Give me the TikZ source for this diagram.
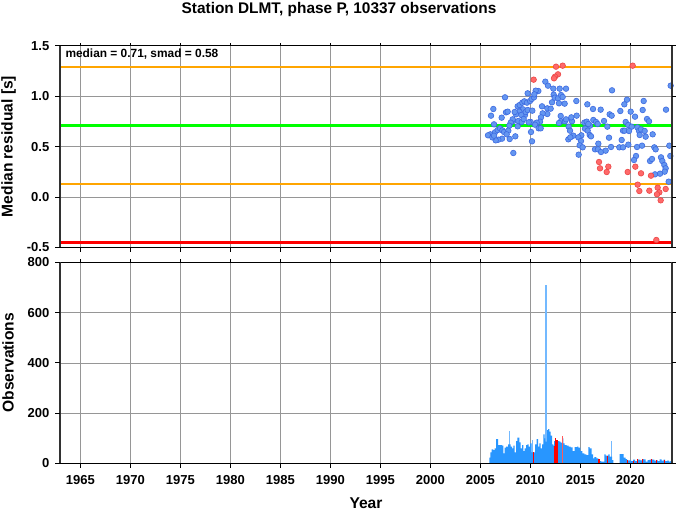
\documentclass[tikz,border=0pt]{standalone}
\usepackage{fontspec}
\setmainfont{Liberation Sans}
\definecolor{ptblue}{RGB}{100,150,240}
\definecolor{ptblueln}{RGB}{60,105,225}
\definecolor{ptred}{RGB}{255,105,105}
\definecolor{ptredln}{RGB}{235,70,70}
\definecolor{barblue}{RGB}{40,150,255}
\definecolor{barlight}{RGB}{115,185,255}
\definecolor{barred}{RGB}{255,0,0}
\definecolor{barredlt}{RGB}{255,90,90}
\definecolor{gridgray}{RGB}{150,150,150}
\definecolor{framegray}{RGB}{50,50,50}
\definecolor{lnorange}{RGB}{255,165,0}
\definecolor{lngreen}{RGB}{0,255,0}
\definecolor{lnred}{RGB}{255,0,0}
\begin{document}
\begin{tikzpicture}[x=1pt,y=-1pt,
  gridline/.style={draw=gridgray, line width=0.6pt},
  frametb/.style={draw=black, line width=1pt},
  framelr/.style={draw=framegray, line width=2pt},
  tickmark/.style={draw=black, line width=0.8pt},
  bpt/.style={fill=ptblue, draw=ptblueln, line width=0.6pt},
  rpt/.style={fill=ptred, draw=ptredln, line width=0.6pt},
  ticklab/.style={inner sep=0pt, font=\fontsize{13}{15}\selectfont\bfseries},
  axlab/.style={inner sep=0pt, font=\fontsize{15.6}{18}\selectfont\bfseries}]
\useasboundingbox (0,0) rectangle (678,511);
\fill[white] (0,0) rectangle (678,511);

% ---------- grid ----------
\foreach \yr in {1965,1970,...,2020}{
  \draw[gridline] ({80.3+(\yr-1965)*10},45.7) -- ({80.3+(\yr-1965)*10},247.3);
  \draw[gridline] ({80.3+(\yr-1965)*10},262.3) -- ({80.3+(\yr-1965)*10},463.3);
}
\foreach \v in {96.1,146.5,196.9,312.55,362.8,413.05}
  \draw[gridline] (59.5,\v) -- (672.3,\v);

% ---------- reference lines ----------
\draw[lnorange, line width=2pt] (59.5,66.9) -- (672.3,66.9);
\draw[lnorange, line width=2pt] (59.5,183.8) -- (672.3,183.8);
\draw[lngreen, line width=3.2pt] (59.5,125.3) -- (672.3,125.3);
\draw[lnred, line width=2.4pt] (59.5,242.3) -- (672.3,242.3);

% ---------- scatter points ----------
\foreach \x/\y in {196/65,204/77,175/93,167/92,143/100,220/86,239/86,258/86,75/112,40/147,33/167,78/157,83/155,65/173,100/183,113/139,119/135,127/128,133/124,141/128,150/123,155/117,162/112,163/103,186/139,202/145,212/146,216/127,221/104,224/113,234/115,243/105,248/111,254/131,237/130,202/162,188/160,183/172,180/185,170/188,165/194,176/205,182/205,152/186,146/187,153/216,156/244,135/165,129/148,118/155,124/165,108/163,104/156,98/178,92/188,88/197,113/199,115/183,125/186,131/177,137/156,143/150,157/152,42/193,31/223,24/226,45/217,53/210,60/205,67/211,72/216,85/212,80/223,66/236,55/239,47/241,37/232,42/227,89/237,106/229,100/279,242/168,243/184,237/189,255/184,258/178,276/184,274/172,266/200,270/212,280/227,265/238,271/232}
  \filldraw[bpt] ({480+\x/3},{60+\y/3}) circle (2.8);
\foreach \x/\y in {111/91,287/77,156/119,148/133,206/123,4/123,37/133,54/147,77/149,136/153,167/155,180/170,203/150,273/149,5/167,104/163,110/167,28/188,35/185,55/180,63/186,68/192,87/183,97/200,45/197,40/192,30/206,38/212,44/225,48/229,19/226,10/232,18/243,14/256,23/262,152/186,160/195,170/200,187/202,192/213,198/208,209/213,216/177,222/184,144/212,149/212,162/213,233/223,212/230,194/225,140/240,102/233,70/251,60/268,69/268,78/276,92/272,108/261,133/262,144/262,160/254,186/261,201/257,238/262,242/268,283/257,11/284}
  \filldraw[bpt] ({575+\x/3},{60+\y/3}) circle (2.8);
\foreach \x/\y in {228/18,222/30,270/33,276/27,303/22,307/33,313/45,317/55,314/65,300/71,285/73,326/95,331/18}
  \filldraw[bpt] ({560+\x/3},{150+\y/3}) circle (2.8);
\foreach \x/\y in {228/20,248/17,234/43,225/50,222/55,161/59}
  \filldraw[rpt] ({480+\x/3},{60+\y/3}) circle (2.8);
\filldraw[rpt] ({575+173/3},{60+17/3}) circle (2.8);
\foreach \x/\y in {117/36,145/50,120/55,140/66,203/66,226/50,243/70,273/77,233/104,238/123,268/122,293/113,298/127,291/133,317/117,302/151,289/270}
  \filldraw[rpt] ({560+\x/3},{150+\y/3}) circle (2.8);

% ---------- histogram ----------
\begin{scope}[shift={(480,415)},scale=1/3]
  \fill[barlight] (88,145) rectangle (91,48);
  \fill[barlight] (155,145) rectangle (158,75);
  \fill[barlight] (196,145) rectangle (201,-390);
  \fill[barblue] (28,145) |- (31,128) |- (35,112) |- (40,103) |- (44,105) |- (48,100) |- (54,72) |- (58,90) |- (66,90) |- (70,92) |- (74,115) |- (78,98) |- (84,95) |- (88,88) |- (92,88) |- (96,95) |- (100,100) |- (104,92) |- (108,112) |- (112,78) |- (118,68) |- (122,82) |- (126,100) |- (130,90) |- (134,108) |- (138,100) |- (142,90) |- (146,88) |- (150,95) |- (154,85) |- (155,85) |- (158,112) |- (161,112) |- (165,112) |- (170,88) |- (174,72) |- (178,95) |- (182,85) |- (186,100) |- (190,88) |- (194,58) |- (196,70) |- (201,80) |- (204,45) |- (208,42) |- (212,50) |- (216,62) |- (220,88) |- (222,92) |- (234,78) |- (238,78) |- (242,80) |- (246,83) |- (250,70) |- (254,85) |- (260,90) |- (266,92) |- (272,95) |- (278,97) |- (284,108) |- (291,96) -- (291,145) -- cycle;
  \fill[barred] (158,145) rectangle (161,112);
  \fill[barred] (221,145) rectangle (225,92);
  \fill[barred] (225,145) rectangle (229,70);
  \fill[barred] (229,145) rectangle (233,76);
  \fill[barredlt] (246,145) rectangle (250,63);
\end{scope}
\begin{scope}[shift={(577,415)},scale=1/3]
  \fill[barlight] (102,145) rectangle (105,78);
  \fill[barblue] (0,145) |- (4,95) |- (10,98) |- (16,108) |- (22,115) |- (28,118) |- (34,120) |- (38,96) |- (44,100) |- (48,118) |- (52,130) |- (58,126) |- (64,130) |- (68,133) |- (72,138) |- (78,140) |- (82,140) |- (86,118) |- (90,122) |- (94,122) |- (98,118) |- (102,125) |- (105,125) |- (109,135) -- (109,145) -- (128,145) |- (134,117) |- (140,117) |- (146,128) |- (150,132) |- (156,136) |- (162,136) |- (168,138) |- (174,134) |- (180,138) |- (184,133) |- (190,134) |- (196,136) |- (200,132) |- (206,133) |- (212,140) |- (218,135) |- (222,134) |- (226,133) |- (232,134) |- (238,137) |- (242,135) |- (248,138) |- (254,133) |- (260,137) |- (264,134) |- (270,138) |- (276,137) |- (280,140) |- (286,138) -- (286,145) -- cycle;
  \fill[barred] (64,145) rectangle (68,133);
  \fill[barred] (90,145) rectangle (94,122);
  \fill[barred] (150,145) rectangle (153,136);
  \fill[barred] (168,145) rectangle (171,138);
  \fill[barred] (180,145) rectangle (184,133);
  \fill[barred] (196,145) rectangle (199,132);
  \fill[barred] (222,145) rectangle (226,133);
  \fill[barred] (238,145) rectangle (241,135);
  \fill[barred] (262,145) rectangle (264,134);
\end{scope}

% ---------- frames ----------
\foreach \t/\b in {45.7/247.3,262.3/463.3}{
  \draw[frametb] (59.5,\t) -- (672.3,\t);
  \draw[frametb] (59.5,\b) -- (672.3,\b);
  \draw[framelr] (59.5,\t) -- (59.5,\b);
  \draw[framelr] (672.3,\t) -- (672.3,\b);
  \foreach \yr in {1965,1970,...,2020}{
    \draw[tickmark] ({80.3+(\yr-1965)*10},\b) -- ++(0,4.5);
    \draw[tickmark] ({80.3+(\yr-1965)*10},\t) -- ++(0,-3);
  }
}
\foreach \v in {45.7,96.1,146.5,196.9,247.3,262.3,312.55,362.8,413.05,463.3}{
  \draw[tickmark] (59.5,\v) -- ++(-4.5,0);
  \draw[tickmark] (672.3,\v) -- ++(3.5,0);
}

% ---------- labels ----------
\node[anchor=base, inner sep=0pt, font=\fontsize{15.4}{18}\selectfont\bfseries] (title) at (339,13.7) {Station DLMT, phase P, 10337 observations};
\node[anchor=base west, inner sep=0pt, font=\fontsize{11.9}{14}\selectfont\bfseries] (stats) at (65.3,57.7) {median = 0.71, smad = 0.58};
\foreach \v/\lab in {45.7/1.5,96.1/1.0,146.5/0.5,196.9/0.0,247.3/-0.5}
  \node[ticklab, anchor=east, text depth=0pt] (ly\lab) at (49.5,\v) {\lab};
\foreach \v/\lab in {262.3/800,312.55/600,362.8/400,413.05/200,463.3/0}
  \node[ticklab, anchor=east, text depth=0pt] (lo\lab) at (49.5,\v) {\lab};
\foreach \yr in {1965,1970,...,2020}
  \node[ticklab, anchor=base] (lx\yr) at ({80.3+(\yr-1965)*10},484.3) {\yr};
\node[axlab, rotate=90] (ylabtop) at (8.5,146.5) {Median residual [s]};
\node[axlab, rotate=90] (ylabbot) at (8,362.8) {Observations};
\node[axlab, anchor=base] (xlab) at (366,508.8) {Year};
\end{tikzpicture}
\end{document}
